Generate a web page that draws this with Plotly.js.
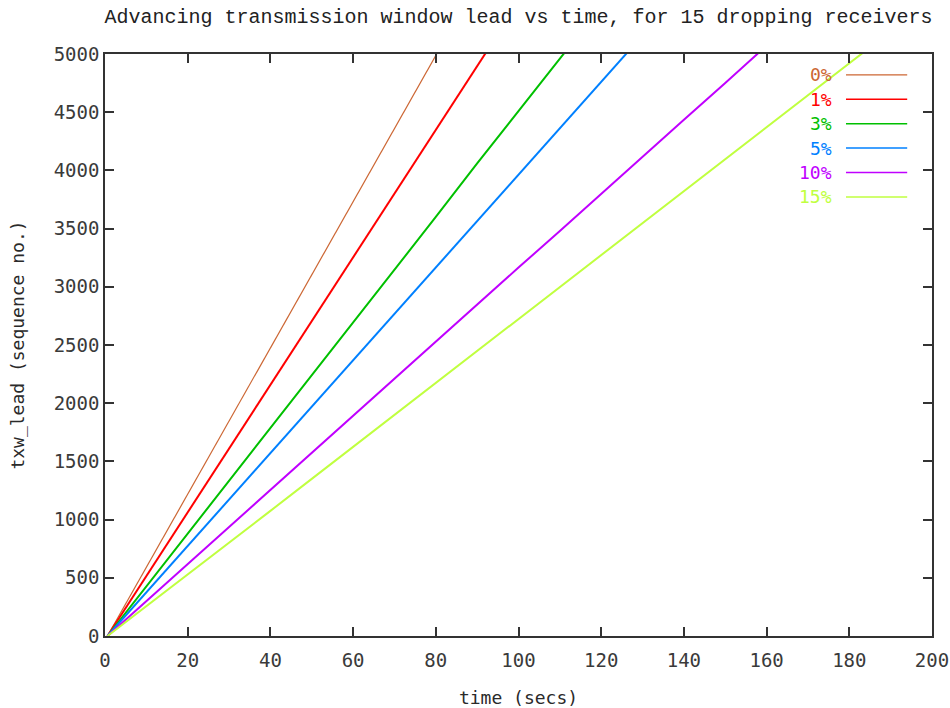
<!DOCTYPE html>
<html>
<head>
<meta charset="utf-8">
<script src="https://cdn.plot.ly/plotly-3.0.1.min.js"></script>
<style>html,body{margin:0;padding:0;background:#fff;}#chart{width:950px;height:708px;}</style>
</head>
<body>
<div id="chart"></div>
<script>
// ---- data ----
var seriesNames = ["0%", "1%", "3%", "5%", "10%", "15%"];
var seriesColors = ["#cc6633", "#ff0000", "#00c000", "#0080ff", "#c000ff", "#c0ff40"];
var seriesWidths = [1.2, 2, 2, 2, 2, 2];

var t0 = [0.6, 10, 20, 30, 40, 50, 60, 70, 80, 81];
var v0 = [0, 590, 1215, 1840, 2475, 3100, 3730, 4355, 4985, 5050];

var t1 = [0.6, 10, 20, 30, 40, 50, 60, 70, 80, 92, 93];
var v1 = [0, 515, 1065, 1610, 2160, 2710, 3260, 3810, 4350, 5005, 5060];

var t3 = [0.6, 10, 20, 30, 40, 50, 60, 70, 80, 90, 100, 111, 112];
var v3 = [0, 425, 880, 1330, 1785, 2240, 2690, 3140, 3600, 4060, 4510, 5000, 5050];

var t5 = [0.6, 10, 20, 30, 40, 50, 60, 70, 80, 90, 100, 110, 126, 127];
var v5 = [0, 375, 775, 1170, 1570, 1975, 2370, 2770, 3165, 3570, 3965, 4365, 5000, 5040];

var t10 = [0.6, 10, 20, 30, 40, 50, 60, 70, 80, 90, 100, 110, 120, 130, 140, 150, 158, 159];
var v10 = [0, 300, 615, 935, 1255, 1575, 1890, 2210, 2530, 2845, 3165, 3480, 3800, 4115, 4435, 4750, 5005, 5040];

var t15 = [0.6, 10, 20, 30, 40, 50, 60, 70, 80, 90, 100, 110, 120, 130, 140, 150, 160, 170, 183, 184];
var v15 = [0, 255, 530, 800, 1075, 1350, 1625, 1900, 2175, 2450, 2720, 2995, 3270, 3545, 3820, 4095, 4370, 4645, 5000, 5030];

var seriesT = [t0, t1, t3, t5, t10, t15];
var seriesV = [v0, v1, v3, v5, v10, v15];

var titleText = "Advancing transmission window lead vs time, for 15 dropping receivers";
var xTitle = "time (secs)";
var yTitle = "txw_lead (sequence no.)";

// ---- traces ----
var traces = seriesNames.map(function (n, i) {
  return {
    type: "scatter", mode: "lines", name: n,
    x: seriesT[i], y: seriesV[i],
    line: {color: seriesColors[i], width: seriesWidths[i]},
    showlegend: false, hoverinfo: "x+y+name"
  };
});

// ---- gnuplot-style key (text left, line sample right) ----
var keyTop = 0.964, keyStep = 0.0419;
var annotations = seriesNames.map(function (n, i) {
  return {
    xref: "paper", yref: "paper", x: 0.881, y: keyTop - i * keyStep,
    xanchor: "right", yanchor: "middle", showarrow: false, text: n,
    font: {family: "DejaVu Sans Mono", size: 18, color: seriesColors[i]}
  };
});
var shapes = seriesNames.map(function (n, i) {
  return {
    type: "line", xref: "paper", yref: "paper",
    x0: 0.896, x1: 0.970, y0: keyTop - i * keyStep, y1: keyTop - i * keyStep,
    line: {color: seriesColors[i], width: seriesWidths[i] === 2 ? 1.5 : 1.2}
  };
});

var axisCommon = {
  showgrid: false, zeroline: false, showline: true, mirror: "ticks",
  linecolor: "#333333", linewidth: 1.5,
  ticks: "inside", ticklen: 9, tickwidth: 1.5, tickcolor: "#333333",
  tickfont: {family: "DejaVu Sans Mono", size: 19, color: "#3a3a3a"}
};

var layout = {
  width: 950, height: 708,
  margin: {l: 105, r: 18, t: 54, b: 72},
  paper_bgcolor: "#ffffff", plot_bgcolor: "#ffffff",
  title: {
    text: titleText, x: 0.5, xref: "paper", y: 0.977, yanchor: "middle",
    font: {family: "Liberation Mono", size: 20, color: "#222222"}
  },
  xaxis: Object.assign({}, axisCommon, {
    range: [0, 200], dtick: 20, tick0: 0, ticklabelstandoff: 6,
    title: {text: xTitle, standoff: 22, font: {family: "DejaVu Sans Mono", size: 18, color: "#2a2a2a"}}
  }),
  yaxis: Object.assign({}, axisCommon, {
    range: [0, 5000], dtick: 500, tick0: 0,
    title: {text: yTitle, standoff: 24, font: {family: "DejaVu Sans Mono", size: 18, color: "#2a2a2a"}}
  }),
  annotations: annotations,
  shapes: shapes
};

Plotly.newPlot("chart", traces, layout, {displayModeBar: false, responsive: false});
</script>
</body>
</html>
